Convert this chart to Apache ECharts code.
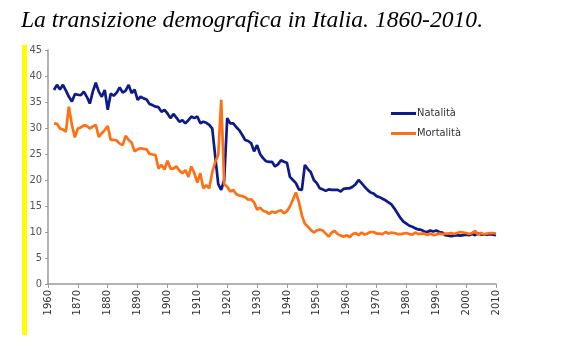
<!DOCTYPE html>
<html>
<head>
<meta charset="utf-8">
<script src="https://cdn.jsdelivr.net/npm/echarts@6/dist/echarts.min.js"></script>
<style>
  html, body { margin: 0; padding: 0; background: #fff; }
  #chart { width: 572px; height: 353px; }
</style>
</head>
<body>
<div id="chart"></div>
<script>
// anni 1862-2010, tassi per mille abitanti
const firstYear = 1862
const natalita = [
  37.3, 38.3, 37.4, 38.3, 37.2, 36.0, 35.1, 36.5, 36.4,
  36.3, 37.0, 36.0, 34.7, 37.0, 38.7, 37.0, 36.0, 37.3, 33.5,
  36.6, 36.2, 36.8, 37.8, 36.8, 37.2, 38.3, 36.7, 37.4, 35.4,
  36.0, 35.7, 35.5, 34.6, 34.4, 34.1, 34.0, 33.1, 33.5, 32.8,
  31.9, 32.7, 32.0, 31.2, 31.5, 30.9, 31.5, 32.2, 31.9, 32.2,
  30.9, 31.2, 31.0, 30.6, 29.9, 24.5, 19.2, 18.1, 20.0, 31.9,
  30.9, 30.9, 30.2, 29.6, 28.7, 27.7, 27.5, 27.1, 25.5, 26.7,
  25.0, 24.2, 23.6, 23.5, 23.5, 22.6, 23.0, 23.8, 23.5, 23.3,
  20.6, 20.0, 19.4, 18.2, 18.1, 22.9, 22.1, 21.5, 20.0, 19.4,
  18.4, 18.2, 17.9, 18.2, 18.1, 18.1, 18.1, 17.8, 18.3, 18.4,
  18.4, 18.7, 19.2, 20.0, 19.4, 18.7, 18.1, 17.6, 17.4, 16.9,
  16.7, 16.4, 16.1, 15.7, 15.3, 14.5, 13.6, 12.7, 12.0, 11.6,
  11.2, 11.0, 10.7, 10.5, 10.4, 10.1, 10.0, 10.3, 10.1, 10.3,
  10.0, 9.9, 9.4, 9.3, 9.2, 9.3, 9.4, 9.3, 9.4, 9.5,
  9.4, 9.6, 9.4, 9.7, 9.5, 9.5, 9.5, 9.6, 9.5, 9.4
]
const mortalita = [
  30.9, 30.8, 29.9, 29.7, 29.3, 34.1, 30.6, 28.2, 29.9,
  30.1, 30.5, 30.4, 29.9, 30.3, 30.6, 28.3, 29.0, 29.6, 30.4,
  27.7, 27.7, 27.6, 27.0, 26.7, 28.5, 27.7, 27.2, 25.5, 25.9,
  26.1, 26.0, 25.9, 25.0, 24.9, 24.8, 22.2, 22.9, 22.0, 23.7,
  22.2, 22.2, 22.6, 21.8, 21.3, 21.9, 20.6, 22.6, 21.3, 19.5,
  21.3, 18.4, 19.0, 18.4, 21.5, 23.5, 24.8, 35.4, 19.2, 18.7,
  17.8, 18.1, 17.3, 17.0, 16.9, 16.7, 16.2, 16.3, 15.7, 14.3,
  14.7, 14.1, 13.9, 13.5, 13.9, 13.7, 14.0, 14.2, 13.6, 14.0,
  14.9, 16.2, 17.6, 15.8, 13.2, 11.6, 11.0, 10.4, 9.9, 10.3,
  10.5, 10.3, 9.7, 9.1, 9.9, 10.2, 9.6, 9.3, 9.1, 9.4,
  9.0, 9.6, 9.8, 9.4, 9.9, 9.5, 9.7, 10.0, 10.0, 9.7,
  9.7, 9.6, 10.0, 9.7, 9.9, 9.8, 9.6, 9.6, 9.7, 9.8,
  9.6, 9.5, 9.9, 9.6, 9.7, 9.7, 9.4, 9.7, 9.4, 9.5,
  9.7, 9.6, 9.7, 9.7, 9.8, 9.6, 9.8, 10.0, 9.9, 9.8,
  9.6, 9.8, 10.2, 9.5, 9.8, 9.5, 9.7, 9.8, 9.8, 9.7
]
// etichette dell'asse come nell'originale (il primo anno e' scritto 1960)
const tickLabels = ['1960', '1870', '1880', '1890', '1900', '1910', '1920', '1930',
  '1940', '1950', '1960', '1970', '1980', '1990', '2000', '2010']

const toPairs = arr => arr.map((v, i) => [firstYear + i, v])

const chart = echarts.init(document.getElementById('chart'))
chart.setOption({
  animation: false,
  backgroundColor: '#fff',
  title: {
    text: 'La transizione demografica in Italia. 1860-2010.',
    left: 16,
    top: 4,
    textStyle: {
      fontFamily: 'Liberation Serif',
      fontStyle: 'italic',
      fontWeight: 'normal',
      fontSize: 23.6,
      color: '#000'
    }
  },
  graphic: [{
    type: 'rect',
    shape: { x: 22, y: 45, width: 5, height: 290 },
    style: { fill: '#ffff00' }
  }],
  legend: {
    orient: 'vertical',
    left: 386,
    top: 103,
    itemWidth: 25,
    itemHeight: 3,
    itemGap: 9,
    icon: 'rect',
    textStyle: { fontFamily: 'DejaVu Sans Condensed', fontSize: 11, color: '#333', padding: [0, 0, 0, -4] },
    data: ['Natalità', 'Mortalità']
  },
  grid: { left: 48, top: 50, right: 76, bottom: 69 },
  xAxis: {
    type: 'value',
    min: 1860,
    max: 2010,
    interval: 10,
    splitLine: { show: false },
    axisLine: { lineStyle: { color: '#999', width: 1.5 } },
    axisTick: { show: true, length: 4, lineStyle: { color: '#999' } },
    axisLabel: {
      rotate: 90,
      fontFamily: 'DejaVu Sans',
      fontSize: 10,
      color: '#333',
      margin: 6,
      formatter: v => tickLabels[Math.round((v - 1860) / 10)]
    }
  },
  yAxis: {
    type: 'value',
    min: 0,
    max: 45,
    interval: 5,
    splitLine: { show: false },
    axisLine: { show: true, lineStyle: { color: '#999', width: 1.5 } },
    axisTick: { show: true, length: 3, lineStyle: { color: '#999' } },
    axisLabel: { fontFamily: 'DejaVu Sans Condensed', fontSize: 11, color: '#555', margin: 6 }
  },
  series: [
    {
      name: 'Natalità',
      type: 'line',
      data: toPairs(natalita),
      showSymbol: false,
      lineStyle: { color: '#0d1a8a', width: 2.7 },
      itemStyle: { color: '#0d1a8a' }
    },
    {
      name: 'Mortalità',
      type: 'line',
      data: toPairs(mortalita),
      showSymbol: false,
      lineStyle: { color: '#ff7014', width: 2.7 },
      itemStyle: { color: '#ff7014' }
    }
  ]
})
</script>
</body>
</html>
